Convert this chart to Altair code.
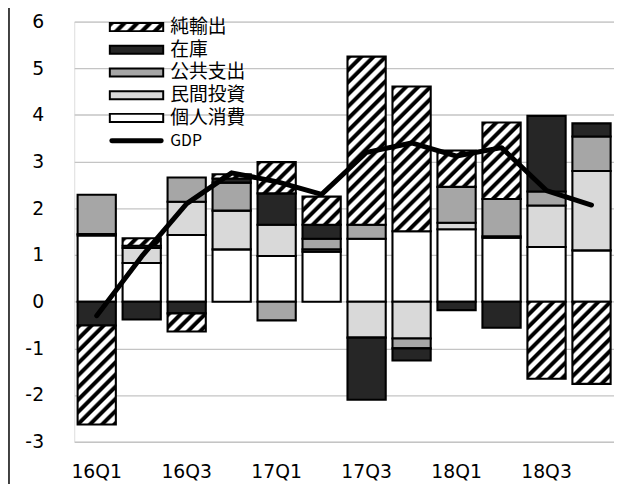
import altair as alt
import pandas as pd

quarters = ['16Q1', '16Q2', '16Q3', '16Q4', '17Q1', '17Q2',
            '17Q3', '17Q4', '18Q1', '18Q2', '18Q3', '18Q4']
x_labels = ['16Q1', '16Q3', '17Q1', '17Q3', '18Q1', '18Q3']

series_names = ['個人消費', '民間投資', '公共支出', '在庫', '純輸出']
consumption = [1.42, 0.83, 1.43, 1.12, 0.98, 1.07, 1.35, 1.51, 1.55, 1.37, 1.17, 1.10]
private_inv = [0.03, 0.32, 0.71, 0.83, 0.67, 0.05, -0.77, -0.79, 0.14, 0.03, 0.89, 1.70]
public_spend = [0.84, 0.05, 0.52, 0.60, -0.40, 0.23, 0.30, -0.21, 0.77, 0.80, 0.30, 0.74]
inventory = [-0.51, -0.38, -0.25, 0.09, 0.67, 0.30, -1.33, -0.26, -0.18, -0.56, 1.62, 0.28]
net_exports = [-2.12, 0.16, -0.39, 0.09, 0.67, 0.60, 3.60, 3.10, 0.78, 1.64, -1.65, -1.76]
gdp = [-0.30, 0.97, 2.10, 2.76, 2.57, 2.30, 3.20, 3.40, 3.12, 3.30, 2.38, 2.07]

legend_labels = ['純輸出', '在庫', '公共支出', '民間投資', '個人消費', 'GDP']
solid_types = ['個人消費', '民間投資', '公共支出', '在庫']
solid_colors = ['#ffffff', '#d9d9d9', '#a6a6a6', '#262626']

# ---- layout / style constants ----
W, H = 546, 425
Y_DOMAIN = [-3, 6]
PX_PER_UNIT = H / (Y_DOMAIN[1] - Y_DOMAIN[0])
PAD_INNER, PAD_OUTER = 0.15, 0.075
STEP = W / (len(quarters) - PAD_INNER + 2 * PAD_OUTER)
BAR_W = STEP * (1 - PAD_INNER)
NUM_FONT = 'DejaVu Sans'
JP_FONT = 'Noto Sans CJK JP'


def hatch(w, h, period=12.3):
    """Diagonal '////' stripes made from a linear gradient (style only)."""
    h = max(h, 1.0)
    L = w + h
    s = L / (w * w + h * h)
    p = period / L
    pattern = [(0.0, '#000000'), (0.30, '#000000'), (0.46, '#ffffff'), (0.84, '#ffffff')]
    stops = []
    k = 0
    while k * p < 1:
        for f, c in pattern:
            t = (k + f) * p
            if t <= 1:
                stops.append({'offset': round(t, 5), 'color': c})
        k += 1
    return {'gradient': 'linear', 'x1': 0, 'y1': 0,
            'x2': round(s * w, 5), 'y2': round(s * h, 5), 'stops': stops}


rows = []
arrays = [consumption, private_inv, public_spend, inventory, net_exports]
for i, q in enumerate(quarters):
    for k, (name, arr) in enumerate(zip(series_names, arrays)):
        rows.append({'quarter': q, 'type': name, 'value': arr[i], 'order': k})
df = pd.DataFrame(rows)
gdp_df = pd.DataFrame({'quarter': quarters, 'GDP': gdp})
leg_df = pd.DataFrame({'label': legend_labels, 'row': list(range(len(legend_labels)))})

x_enc = alt.X('quarter:N', sort=quarters,
              scale=alt.Scale(paddingInner=PAD_INNER, paddingOuter=PAD_OUTER),
              axis=alt.Axis(values=x_labels, title=None, labelAngle=0, domain=False,
                            ticks=False, grid=False, labelPadding=21,
                            labelFont=NUM_FONT, labelFontSize=19, labelColor='#000000'))
y_scale = alt.Scale(domain=Y_DOMAIN, nice=False, zero=False)

base = alt.Chart(df).transform_stack(
    stack='value', groupby=['quarter'], as_=['y0', 'y1'],
    sort=[alt.SortField('order', order='ascending')], offset='zero')

main = base.transform_filter("datum.type != '純輸出'").mark_bar(
    stroke='#000000', strokeWidth=2.1).encode(
    x=x_enc,
    y=alt.Y('y0:Q', scale=y_scale,
            axis=alt.Axis(values=list(range(-3, 7)), title=None, grid=True,
                          gridColor='#c4c4c4', gridWidth=1.3, domain=False, ticks=False,
                          labelPadding=31, labelFont=NUM_FONT, labelFontSize=19,
                          labelColor='#000000',
                          labelExpr="datum.value < 0 ? '-' + abs(datum.value) : '' + datum.value")),
    y2='y1:Q',
    fill=alt.Fill('type:N', scale=alt.Scale(domain=solid_types, range=solid_colors), legend=None),
)

hatch_layers = []
for q, v in zip(quarters, net_exports):
    layer = base.transform_filter(
        f"datum.type == '純輸出' && datum.quarter == '{q}'").mark_bar(
        stroke='#000000', strokeWidth=2.1,
        fill=hatch(BAR_W, abs(v) * PX_PER_UNIT)).encode(
        x=alt.X('quarter:N', sort=quarters),
        y=alt.Y('y0:Q', scale=y_scale, axis=None),
        y2='y1:Q')
    hatch_layers.append(layer)

line = alt.Chart(gdp_df).mark_line(
    color='#000000', strokeWidth=5, strokeCap='round', strokeJoin='round').encode(
    x=alt.X('quarter:N', sort=quarters),
    y=alt.Y('GDP:Q', scale=y_scale, axis=None))

# ---- legend (inside the plot, top-left) ----
leg_scale = alt.Scale(domain=[0, 5], range=[5.5, 120.5], nice=False, zero=False)
leg_base = alt.Chart(leg_df)
LEG_X0, LEG_X1, LEG_TX = 36, 90, 97

leg_rect = leg_base.transform_filter(
    alt.FieldOneOfPredicate(field='label', oneOf=solid_types)).transform_calculate(
    lo='datum.row - 0.18', hi='datum.row + 0.18').mark_rect(
    stroke='#000000', strokeWidth=2).encode(
    x=alt.value(LEG_X0), x2=alt.value(LEG_X1),
    y=alt.Y('lo:Q', scale=leg_scale, axis=None), y2='hi:Q',
    fill=alt.Fill('label:N', scale=alt.Scale(domain=solid_types, range=solid_colors), legend=None))

leg_hatch = leg_base.transform_filter("datum.label == '純輸出'").transform_calculate(
    lo='datum.row - 0.18', hi='datum.row + 0.18').mark_rect(
    stroke='#000000', strokeWidth=2,
    fill=hatch(LEG_X1 - LEG_X0, 0.36 * (120.5 - 5.5) / 5, period=13)).encode(
    x=alt.value(LEG_X0), x2=alt.value(LEG_X1),
    y=alt.Y('lo:Q', scale=leg_scale, axis=None), y2='hi:Q')

leg_rule = leg_base.transform_filter("datum.label == 'GDP'").mark_rule(
    color='#000000', strokeWidth=5, strokeCap='round').encode(
    x=alt.value(LEG_X0 + 2), x2=alt.value(LEG_X1 - 2),
    y=alt.Y('row:Q', scale=leg_scale, axis=None))

leg_text = leg_base.mark_text(align='left', baseline='middle', font=JP_FONT,
                              color='#000000').encode(
    x=alt.value(LEG_TX),
    y=alt.Y('row:Q', scale=leg_scale, axis=None),
    text='label:N',
    size=alt.condition("datum.label == 'GDP'", alt.value(16), alt.value(19)))

border = alt.Chart(alt.Data(values=[{'k': 0}])).mark_rule(
    color='#000000', strokeWidth=1.5).encode(
    x=alt.value(-66), y=alt.value(-19), y2=alt.value(470))

chart = alt.layer(main, *hatch_layers, line, leg_rect, leg_hatch, leg_rule, leg_text, border
                  ).resolve_scale(y='independent').properties(
    width=W, height=H,
    padding={'left': 67, 'top': 11, 'right': 0, 'bottom': 40},
    autosize=alt.AutoSizeParams(type='none'),
).configure_view(stroke=None).configure(background='#ffffff')

chart.save('out.html', embed_options={'renderer': 'svg', 'actions': False})
